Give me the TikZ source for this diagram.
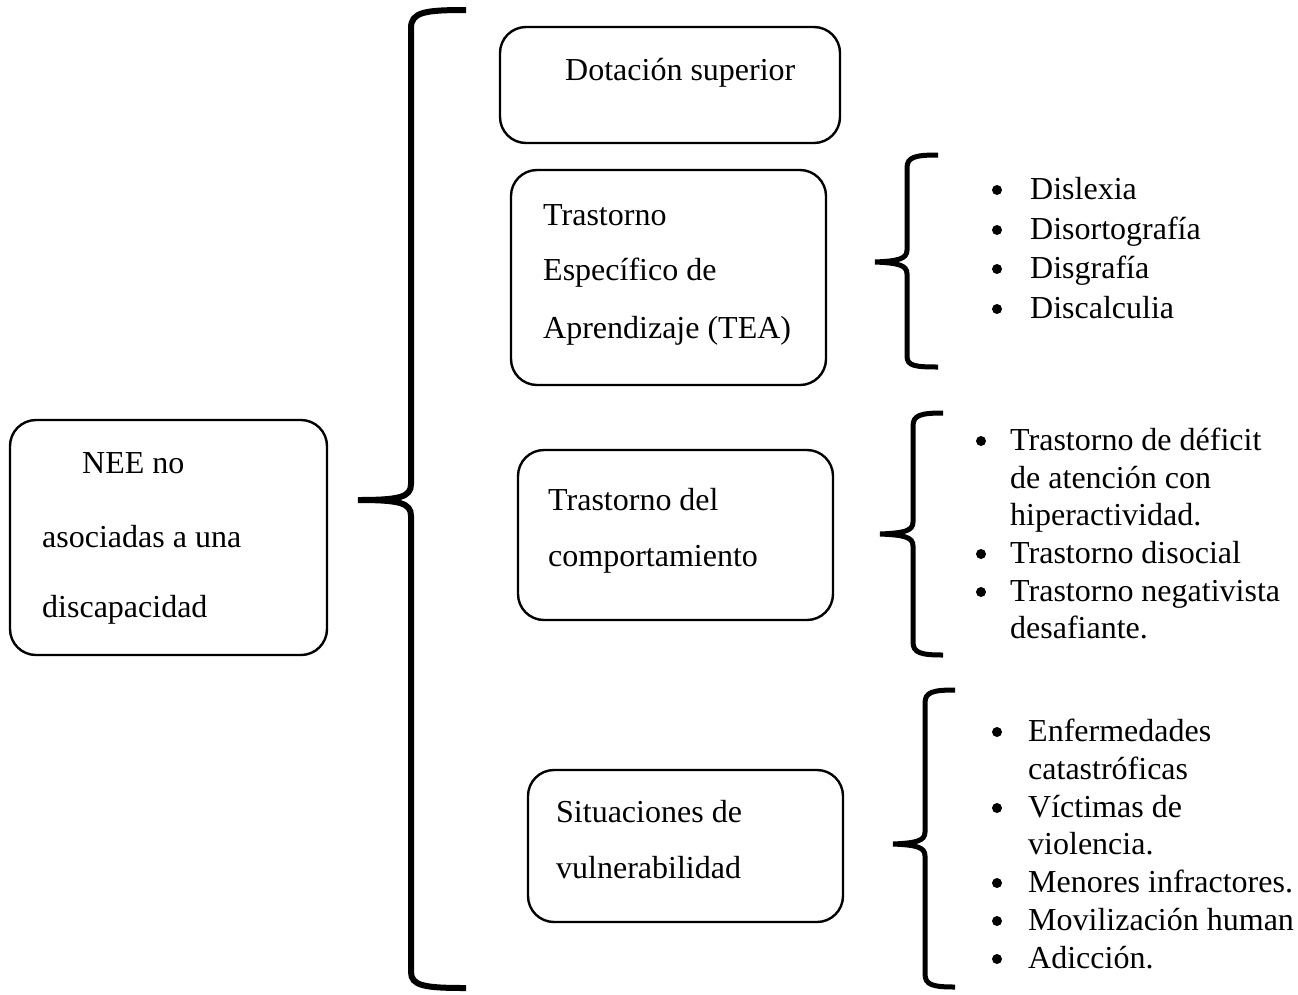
\documentclass[tikz,border=0pt]{standalone}
\usepackage{fontspec}
\setmainfont{Liberation Serif}
\begin{document}
\begin{tikzpicture}[x=1pt,y=-1pt,
  box/.style={draw,line width=2.4pt,rounded corners=26pt},
  brace/.style={draw,line width=5pt,line cap=butt},
  bigbrace/.style={draw,line width=6pt},
  txt/.style={anchor=base west,inner sep=0pt,font=\fontsize{32}{38}\selectfont},
  bul/.style={circle,fill,inner sep=0pt,minimum size=10pt,yshift=9pt}]
\useasboundingbox (0,0) rectangle (1298,994);
% boxes
\draw[box] (10,420) rectangle (327,655);
\draw[box] (500,27) rectangle (840,143);
\draw[box] (511,170) rectangle (826,385);
\draw[box] (518,450) rectangle (833,620);
\draw[box] (528,770) rectangle (843,922);
% box texts
\node[txt] (nee1) at (82,473) {NEE no};
\node[txt] (nee2) at (42,547) {asociadas a una};
\node[txt] (nee3) at (42,617) {discapacidad};
\node[txt] (dot) at (565,80) {Dotación superior};
\node[txt] (tea1) at (543,225) {Trastorno};
\node[txt] (tea2) at (543,280) {Específico de};
\node[txt] (tea3) at (543,338) {Aprendizaje (TEA)};
\node[txt] (com1) at (548,510) {Trastorno del};
\node[txt] (com2) at (548,566) {comportamiento};
\node[txt] (sit1) at (556,822) {Situaciones de};
\node[txt] (sit2) at (556,878) {vulnerabilidad};
% big brace
\draw[bigbrace] (466,10) .. controls (425,10) and (411,12) .. (411,28) -- (411,484)
  .. controls (411,497) and (400,500) .. (358,500)
  .. controls (400,500) and (411,503) .. (411,516) -- (411,972)
  .. controls (411,986) and (425,988) .. (466,988);
% brace 2
\draw[brace] (938,155) .. controls (915,155) and (907,157) .. (907,168) -- (907,250)
  .. controls (907,259) and (898,261) .. (875,262)
  .. controls (898,263) and (907,265) .. (907,274) -- (907,356)
  .. controls (907,366) and (915,367) .. (938,367);
% brace 3
\draw[brace] (943,413) .. controls (921,413) and (913,415) .. (913,426) -- (913,522)
  .. controls (913,531) and (904,533) .. (880,534)
  .. controls (904,535) and (913,537) .. (913,546) -- (913,642)
  .. controls (913,653) and (921,655) .. (943,655);
% brace 4
\draw[brace] (955,690) .. controls (933,690) and (925,692) .. (925,703) -- (925,832)
  .. controls (925,841) and (916,843) .. (893,844)
  .. controls (916,845) and (925,847) .. (925,856) -- (925,974)
  .. controls (925,985) and (933,987) .. (955,987);
% list 1
\node[bul] (b11) at (997,199) {};
\node[txt] (l11) at (1030,199) {Dislexia};
\node[bul] (b12) at (997,239) {};
\node[txt] (l12) at (1030,239) {Disortografía};
\node[bul] (b13) at (997,278) {};
\node[txt] (l13) at (1030,278) {Disgrafía};
\node[bul] (b14) at (997,318) {};
\node[txt] (l14) at (1030,318) {Discalculia};
% list 2
\node[bul] (b21) at (981,450) {};
\node[txt] (l21) at (1010,450) {Trastorno de déficit};
\node[txt] (l22) at (1010,488) {de atención con};
\node[txt] (l23) at (1010,525) {hiperactividad.};
\node[bul] (b24) at (981,563) {};
\node[txt] (l24) at (1010,563) {Trastorno disocial};
\node[bul] (b25) at (981,601) {};
\node[txt] (l25) at (1010,601) {Trastorno negativista};
\node[txt] (l26) at (1010,638) {desafiante.};
% list 3
\node[bul] (b31) at (997,741) {};
\node[txt] (l31) at (1028,741) {Enfermedades};
\node[txt] (l32) at (1028,779) {catastróficas};
\node[bul] (b33) at (997,817) {};
\node[txt] (l33) at (1028,817) {Víctimas de};
\node[txt] (l34) at (1028,854) {violencia.};
\node[bul] (b35) at (997,892) {};
\node[txt] (l35) at (1028,892) {Menores infractores.};
\node[bul] (b36) at (997,930) {};
\node[txt] (l36) at (1028,930) {Movilización human};
\node[bul] (b37) at (997,968) {};
\node[txt] (l37) at (1028,968) {Adicción.};
\end{tikzpicture}
\end{document}
